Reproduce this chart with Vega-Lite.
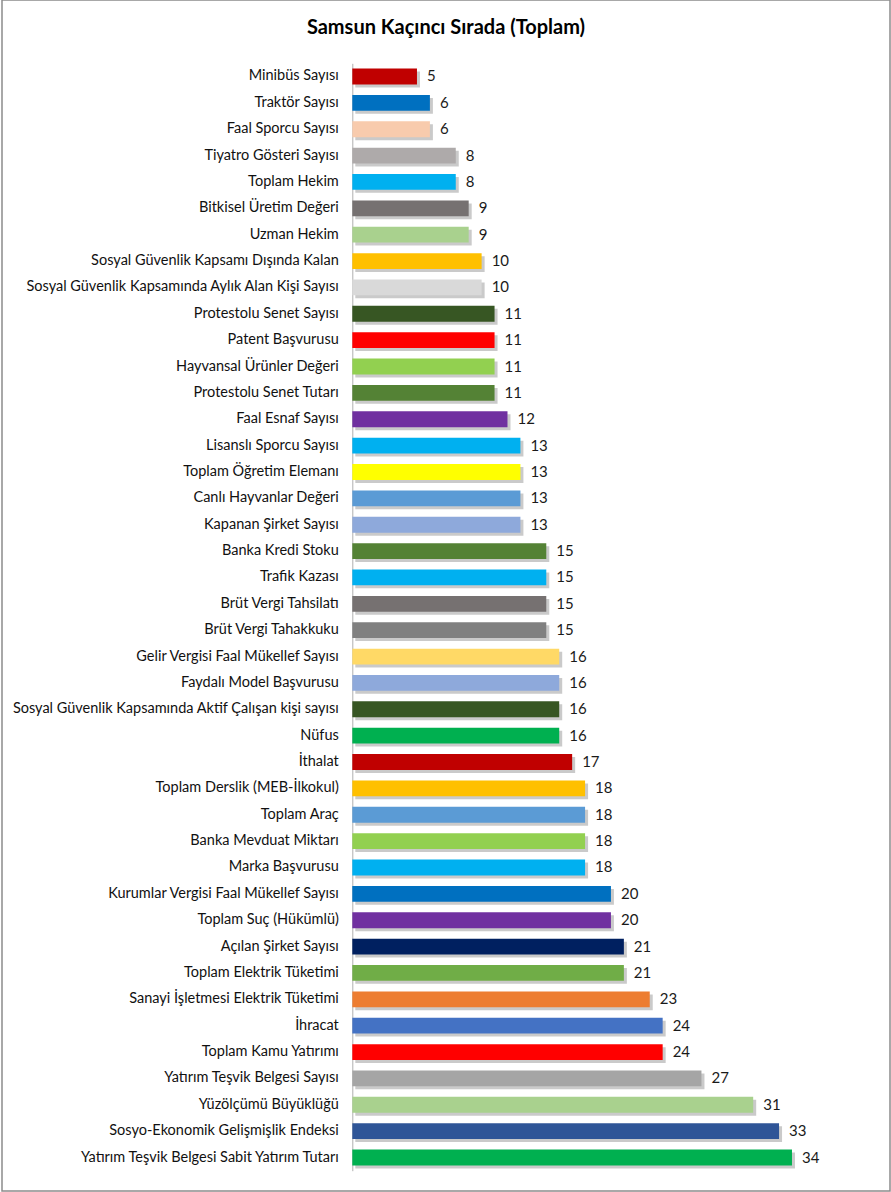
{
  "$schema": "https://vega.github.io/schema/vega-lite/v6.json",
  "autosize": {"type": "fit", "contains": "padding"},
  "width": 891,
  "height": 1192,
  "padding": {"left": 2, "top": 0, "right": 1, "bottom": 1},
  "background": "white",
  "title": {
    "text": "Samsun Kaçıncı Sırada (Toplam)",
    "font": "Lato",
    "fontSize": 20,
    "fontWeight": "bold",
    "color": "#000000",
    "anchor": "middle",
    "offset": -38
  },
  "config": {
    "view": {"stroke": "#8c8c8c", "strokeWidth": 1.5},
    "font": "Lato"
  },
  "data": {
    "values": [
      {"label": "Minibüs Sayısı", "value": 5, "color": "#C00000"},
      {"label": "Traktör Sayısı ", "value": 6, "color": "#0070C0"},
      {"label": "Faal Sporcu Sayısı", "value": 6, "color": "#F8CBAD"},
      {"label": "Tiyatro Gösteri Sayısı", "value": 8, "color": "#AEAAAA"},
      {"label": "Toplam Hekim", "value": 8, "color": "#00B0F0"},
      {"label": "Bitkisel Üretim Değeri", "value": 9, "color": "#767171"},
      {"label": "Uzman Hekim", "value": 9, "color": "#A9D18E"},
      {"label": "Sosyal Güvenlik Kapsamı Dışında Kalan ", "value": 10, "color": "#FFC000"},
      {"label": "Sosyal Güvenlik Kapsamında Aylık Alan Kişi Sayısı", "value": 10, "color": "#D9D9D9"},
      {"label": "Protestolu Senet Sayısı", "value": 11, "color": "#375623"},
      {"label": "Patent Başvurusu", "value": 11, "color": "#FF0000"},
      {"label": "Hayvansal Ürünler Değeri", "value": 11, "color": "#92D050"},
      {"label": "Protestolu Senet Tutarı", "value": 11, "color": "#548235"},
      {"label": "Faal Esnaf Sayısı", "value": 12, "color": "#7030A0"},
      {"label": "Lisanslı Sporcu Sayısı", "value": 13, "color": "#00B0F0"},
      {"label": "Toplam Öğretim Elemanı", "value": 13, "color": "#FFFF00"},
      {"label": "Canlı Hayvanlar Değeri", "value": 13, "color": "#5B9BD5"},
      {"label": "Kapanan Şirket Sayısı", "value": 13, "color": "#8EA9DB"},
      {"label": "Banka Kredi Stoku", "value": 15, "color": "#548235"},
      {"label": "Trafik Kazası", "value": 15, "color": "#00B0F0"},
      {"label": "Brüt Vergi Tahsilatı", "value": 15, "color": "#767171"},
      {"label": "Brüt Vergi Tahakkuku", "value": 15, "color": "#808080"},
      {"label": "Gelir Vergisi Faal Mükellef Sayısı", "value": 16, "color": "#FFD966"},
      {"label": "Faydalı Model Başvurusu", "value": 16, "color": "#8EA9DB"},
      {"label": "Sosyal Güvenlik Kapsamında Aktif Çalışan kişi sayısı", "value": 16, "color": "#375623"},
      {"label": "Nüfus", "value": 16, "color": "#00B050"},
      {"label": "İthalat", "value": 17, "color": "#C00000"},
      {"label": "Toplam Derslik (MEB-İlkokul)", "value": 18, "color": "#FFC000"},
      {"label": "Toplam Araç", "value": 18, "color": "#5B9BD5"},
      {"label": "Banka Mevduat Miktarı", "value": 18, "color": "#92D050"},
      {"label": "Marka Başvurusu", "value": 18, "color": "#00B0F0"},
      {"label": "Kurumlar Vergisi Faal Mükellef Sayısı", "value": 20, "color": "#0070C0"},
      {"label": "Toplam Suç (Hükümlü)", "value": 20, "color": "#7030A0"},
      {"label": "Açılan Şirket Sayısı", "value": 21, "color": "#002060"},
      {"label": "Toplam Elektrik Tüketimi", "value": 21, "color": "#70AD47"},
      {"label": "Sanayi İşletmesi Elektrik Tüketimi", "value": 23, "color": "#ED7D31"},
      {"label": "İhracat", "value": 24, "color": "#4472C4"},
      {"label": "Toplam Kamu Yatırımı", "value": 24, "color": "#FF0000"},
      {"label": "Yatırım Teşvik Belgesi Sayısı", "value": 27, "color": "#A5A5A5"},
      {"label": "Yüzölçümü Büyüklüğü", "value": 31, "color": "#A9D18E"},
      {"label": "Sosyo-Ekonomik Gelişmişlik Endeksi", "value": 33, "color": "#2F5597"},
      {"label": "Yatırım Teşvik Belgesi Sabit Yatırım Tutarı", "value": 34, "color": "#00B050"}
    ]
  },
  "encoding": {
    "y": {
      "field": "label",
      "type": "nominal",
      "sort": null,
      "title": null,
      "scale": {"range": [63.3, 1170.7], "paddingInner": 0.4, "paddingOuter": 0.2},
      "axis": {
        "offset": -350.3,
        "domainColor": "#b0b0b0",
        "domainWidth": 1,
        "ticks": false,
        "labelPadding": 14,
        "labelFontSize": 14.5,
        "labelFont": "Lato",
        "labelColor": "#111111",
        "labelLimit": 400
      }
    }
  },
  "layer": [
    {
      "mark": {"type": "bar", "color": "#8a8a8a", "opacity": 0.45, "xOffset": 3, "x2Offset": 3, "yOffset": 3, "y2Offset": 3},
      "encoding": {
        "x": {"field": "value", "type": "quantitative", "scale": {"domain": [-27.09, 41.58], "nice": false, "zero": false}, "axis": null},
        "x2": {"datum": 0}
      }
    },
    {
      "mark": {"type": "bar"},
      "encoding": {
        "x": {"field": "value", "type": "quantitative"},
        "x2": {"datum": 0},
        "color": {"field": "color", "type": "nominal", "scale": null, "legend": null}
      }
    },
    {
      "mark": {"type": "text", "align": "left", "dx": 10, "fontSize": 15, "color": "#1a1a1a", "font": "Lato"},
      "encoding": {
        "x": {"field": "value", "type": "quantitative"},
        "text": {"field": "value", "type": "quantitative"}
      }
    }
  ]
}
